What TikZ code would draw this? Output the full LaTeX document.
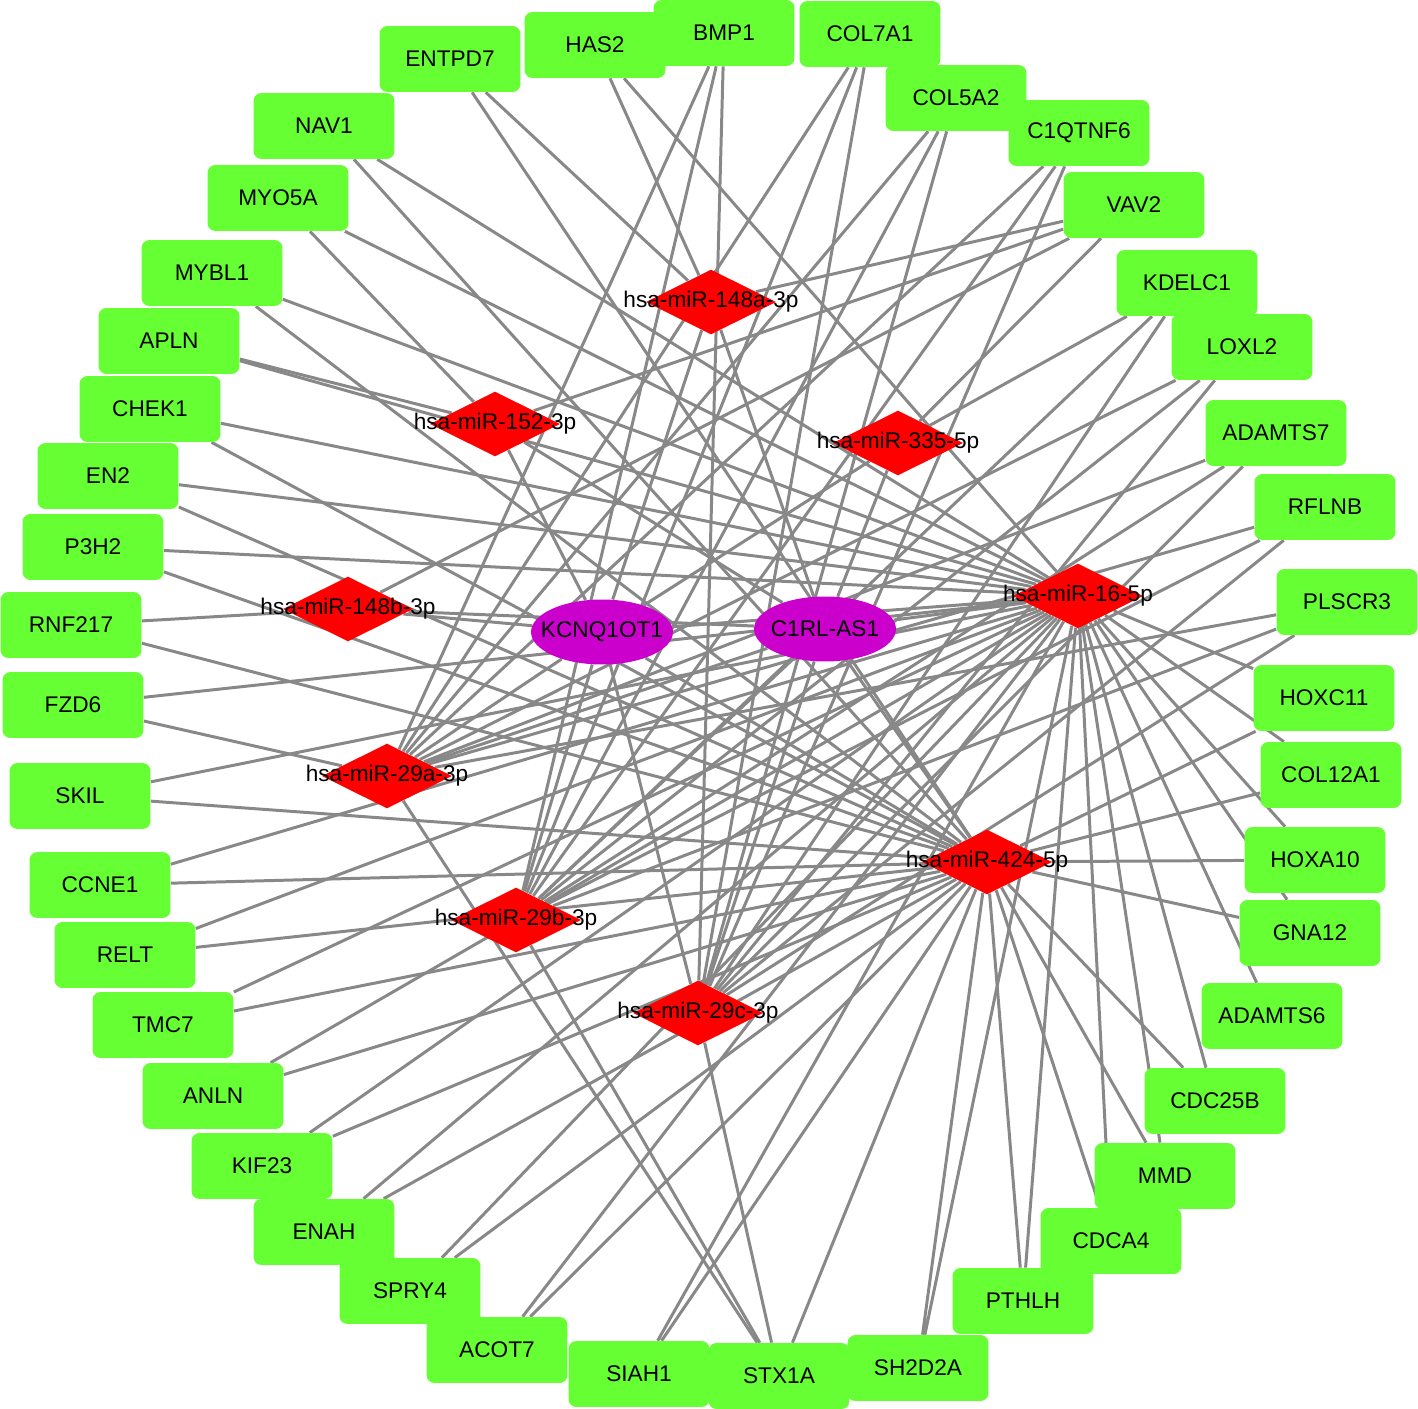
\documentclass[tikz,border=0pt]{standalone}
\usepackage{fontspec}
\setmainfont{Liberation Sans}
\usepackage{xcolor}
\usepackage{tikz}
\usetikzlibrary{shapes.geometric, backgrounds}

\definecolor{genegreen}{RGB}{102,255,51}
\definecolor{lncpurple}{RGB}{204,0,204}
\definecolor{edgegray}{RGB}{136,136,136}
\newcommand{\netfont}{\fontsize{12.9}{15}\selectfont}

\begin{document}
\begin{tikzpicture}[
        x=0.02cm,
        y=-0.02cm,
        gene/.style={fill=genegreen,rounded corners=0.16cm,minimum width=2.82cm,minimum height=1.32cm,inner sep=0pt,font=\netfont},
        mirna/.style={diamond,aspect=2,fill=red,minimum width=2.6cm,minimum height=1.3cm,inner sep=0pt},
        lnc/.style={ellipse,fill=lncpurple,minimum width=2.84cm,minimum height=1.3cm,inner sep=0pt},
        edge/.style={draw=edgegray,line width=1.7pt}
    ]
        \useasboundingbox (0,0) rectangle (1418,1409);
        % target genes
        \foreach \n/\px/\py/\t in {
            entpd7/450/59/ENTPD7, has2/595/45/HAS2, bmp1/724/33/BMP1, col7a1/870/34/COL7A1,
            col5a2/956/98/COL5A2, c1qtnf6/1079/133/C1QTNF6, vav2/1134/205/VAV2,
            loxl2/1242/347/LOXL2, kdelc1/1187/283/KDELC1, adamts7/1276/433/ADAMTS7,
            rflnb/1325/507/RFLNB, plscr3/1347/602/PLSCR3, hoxc11/1324/698/HOXC11,
            col12a1/1331/775/COL12A1, hoxa10/1315/860/HOXA10, gna12/1310/933/GNA12,
            adamts6/1272/1016/ADAMTS6, cdc25b/1215/1101/CDC25B, mmd/1165/1176/MMD,
            cdca4/1111/1241/CDCA4, pthlh/1023/1301/PTHLH, sh2d2a/918/1368/SH2D2A,
            siah1/639/1374/SIAH1, stx1a/779/1376/STX1A, enah/324/1232/ENAH,
            spry4/410/1291/SPRY4, acot7/497/1350/ACOT7, kif23/262/1166/KIF23,
            anln/213/1096/ANLN, tmc7/163/1025/TMC7, relt/125/955/RELT,
            ccne1/100/885/CCNE1, skil/80/796/SKIL, fzd6/73/705/FZD6,
            rnf217/71/625/RNF217, p3h2/93/547/P3H2, en2/108/476/EN2,
            chek1/150/409/CHEK1, apln/169/341/APLN, mybl1/212/273/MYBL1,
            myo5a/278/198/MYO5A, nav1/324/126/NAV1}
            \node[gene] (\n) at (\px,\py) {\t};
        % miRNAs
        \foreach \n/\px/\py/\t in {
            m148a/711/302/hsa-miR-148a-3p, m152/495/424/hsa-miR-152-3p,
            m335/898/443/hsa-miR-335-5p, m16/1078/596/hsa-miR-16-5p,
            m148b/348/609/hsa-miR-148b-3p, m29a/387/776/hsa-miR-29a-3p,
            m424/987/862/hsa-miR-424-5p, m29b/516/920/hsa-miR-29b-3p,
            m29c/698/1013/hsa-miR-29c-3p}
            \node[mirna,label={[font=\netfont]center:\t}] (\n) at (\px,\py) {};
        % lncRNAs
        \node[lnc,label={[font=\netfont]center:KCNQ1OT1}] (kcnq) at (602,632) {};
        \node[lnc,label={[font=\netfont]center:C1RL-AS1}] (c1rl) at (825,629) {};

        \begin{scope}[on background layer]
            \foreach \l in {kcnq,c1rl}
                \foreach \m in {m148a,m152,m335,m16,m148b,m29a,m424,m29b,m29c}
                    \draw[edge] (\l) -- (\m);
            \foreach \g/\m in {
                entpd7/m148a, entpd7/m424, has2/m148a, has2/m16,
                bmp1/m29a, bmp1/m29b, bmp1/m29c,
                col7a1/m29a, col7a1/m29b, col7a1/m29c,
                col5a2/m29a, col5a2/m29b, col5a2/m29c,
                c1qtnf6/m29a, c1qtnf6/m29b, c1qtnf6/m29c,
                vav2/m148a, vav2/m152, vav2/m148b, vav2/m335,
                kdelc1/m335, kdelc1/m29b, kdelc1/m29c,
                loxl2/m29a, loxl2/m29b, loxl2/m29c,
                adamts7/m29a, adamts7/m29b, adamts7/m29c,
                rflnb/m29a, rflnb/m29b, rflnb/m29c,
                plscr3/m29a, plscr3/m29b, plscr3/m29c,
                stx1a/m29a, stx1a/m29b, stx1a/m29c, stx1a/m424,
                fzd6/m16, fzd6/m29a, rnf217/m148b, rnf217/m424,
                apln/m152, apln/m16, myo5a/m16, myo5a/m152,
                adamts6/m16}
                \draw[edge] (\g) -- (\m);
            % genes shared by miR-16-5p and miR-424-5p
            \foreach \g in {hoxc11,col12a1,hoxa10,gna12,cdc25b,mmd,cdca4,pthlh,sh2d2a,
                    siah1,acot7,spry4,enah,kif23,anln,tmc7,relt,ccne1,skil,
                    p3h2,en2,chek1,mybl1,nav1}
                \draw[edge] (m16) -- (\g) -- (m424);
        \end{scope}
    \end{tikzpicture}
\end{document}
